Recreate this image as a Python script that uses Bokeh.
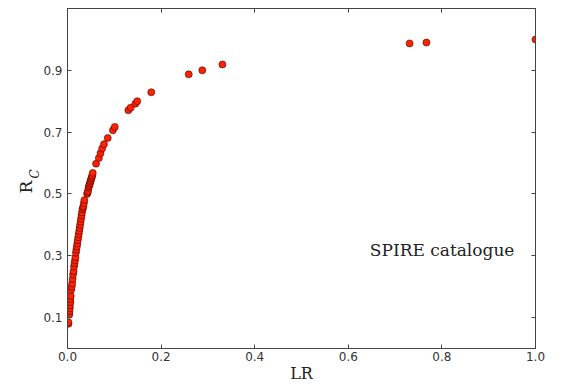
from bokeh.plotting import figure
from bokeh.models import (LinearAxis, Label, FixedTicker, Range1d,
                          ColumnDataSource, Title, CustomJSTickFormatter)
from bokeh.embed import file_html
from bokeh.resources import INLINE

lr = [0.002, 0.002, 0.004, 0.004, 0.005, 0.005, 0.006, 0.006, 0.007, 0.008,
      0.009, 0.010, 0.011, 0.012, 0.013, 0.014, 0.015, 0.016, 0.017, 0.018,
      0.019, 0.020, 0.021, 0.022, 0.023, 0.024, 0.025, 0.026, 0.027, 0.028,
      0.029, 0.030, 0.031, 0.032, 0.033, 0.034, 0.035, 0.036,
      0.042, 0.043, 0.044, 0.045, 0.046, 0.047, 0.048, 0.049, 0.050, 0.051,
      0.052, 0.053, 0.054,
      0.061, 0.067, 0.0705, 0.074, 0.078, 0.086, 0.097, 0.101, 0.130, 0.135,
      0.145, 0.149, 0.179, 0.259, 0.288, 0.331, 0.731, 0.767, 1.0]
rc = [0.080, 0.085, 0.110, 0.120, 0.130, 0.140, 0.150, 0.160, 0.170, 0.190,
      0.200, 0.210, 0.225, 0.240, 0.250, 0.265, 0.275, 0.285, 0.295, 0.310,
      0.320, 0.330, 0.340, 0.350, 0.360, 0.370, 0.380, 0.390, 0.400, 0.410,
      0.420, 0.430, 0.440, 0.450, 0.455, 0.460, 0.470, 0.480,
      0.500, 0.505, 0.510, 0.520, 0.525, 0.530, 0.535, 0.540, 0.545, 0.550,
      0.555, 0.560, 0.568,
      0.598, 0.616, 0.632, 0.647, 0.661, 0.681, 0.706, 0.717, 0.771, 0.779,
      0.792, 0.800, 0.829, 0.887, 0.900, 0.919, 0.987, 0.990, 1.0]

x_ticks = [0.0, 0.2, 0.4, 0.6, 0.8, 1.0]
y_ticks = [0.1, 0.3, 0.5, 0.7, 0.9]

p = figure(width=563, height=386, output_backend="svg", toolbar_location=None,
           x_range=Range1d(0, 1), y_range=Range1d(0, 1.1),
           x_axis_location=None, y_axis_location=None,
           min_border_left=67, min_border_right=28, min_border_top=8,
           min_border_bottom=38)
p.grid.visible = False
p.outline_line_color = "black"
p.outline_line_width = 1
p.background_fill_color = "white"
p.border_fill_color = "white"


def make_axis(ticks, labels=True):
    ax = LinearAxis(ticker=FixedTicker(ticks=ticks))
    ax.major_tick_in = 4
    ax.major_tick_out = 0
    ax.minor_tick_in = 0
    ax.minor_tick_out = 0
    ax.axis_line_color = "#444444"
    ax.major_tick_line_color = "#444444"
    ax.major_label_text_font = "DejaVu Sans"
    ax.major_label_text_font_size = "12px"
    ax.major_label_text_color = "#333333"
    ax.major_label_standoff = 5
    ax.formatter = CustomJSTickFormatter(code="return tick.toFixed(1);")
    if not labels:
        ax.major_label_text_font_size = "0px"
        ax.major_label_text_alpha = 0
    return ax


xb = make_axis(x_ticks)
xb.major_label_standoff = 3
xb.axis_label = "LR"
xb.axis_label_text_font = "DejaVu Serif"
xb.axis_label_text_font_style = "normal"
xb.axis_label_text_font_size = "16px"
xb.axis_label_text_color = "#222222"
xb.axis_label_standoff = 0
p.add_layout(xb, "below")

yl = make_axis(y_ticks)
p.add_layout(yl, "left")

p.add_layout(make_axis(x_ticks, labels=False), "above")
p.add_layout(make_axis(y_ticks, labels=False), "right")

src = ColumnDataSource(dict(x=lr, y=rc))
p.scatter("x", "y", source=src, size=7, fill_color="#ff2200",
          line_color="#4a0000", line_width=0.6)

p.add_layout(Label(x=0.646, y=0.318, text="SPIRE catalogue",
                   text_font="DejaVu Serif", text_font_size="17px",
                   text_color="#222222", text_baseline="middle",
                   text_align="left"))

# y-axis label R_C built from two side titles (subscript C closer to axis)
p.add_layout(Title(text="C", text_font="DejaVu Serif", text_font_style="italic",
                   text_font_size="12px", text_color="#222222", align="left",
                   offset=170, standoff=-3), "left")
p.add_layout(Title(text="R", text_font="DejaVu Serif", text_font_style="normal",
                   text_font_size="17px", text_color="#222222", align="left",
                   offset=155, standoff=-17), "left")

open("out.html", "w").write(file_html(p, INLINE))
